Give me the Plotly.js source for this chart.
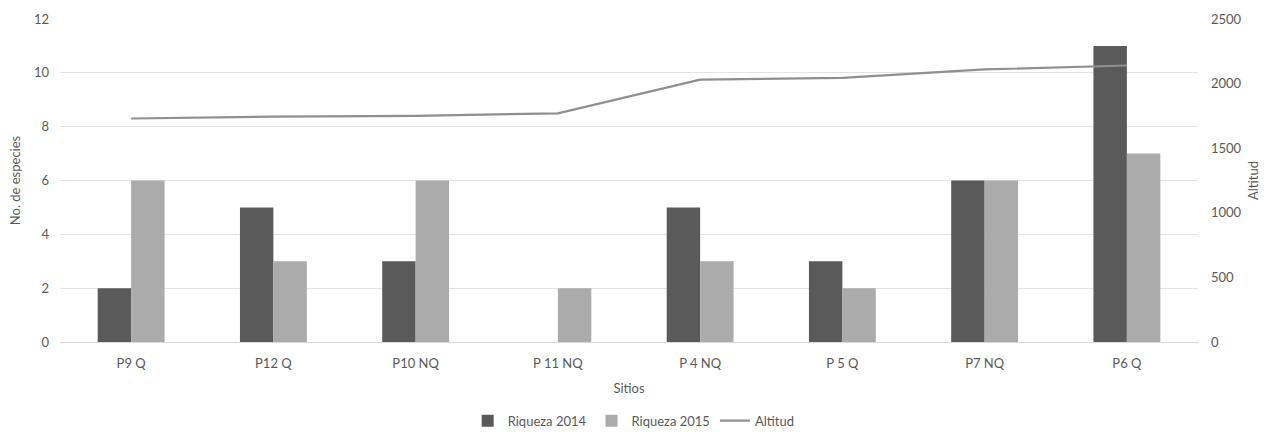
<!DOCTYPE html>
<html>
<head>
<meta charset="utf-8">
<script src="https://cdn.plot.ly/plotly-3.0.1.min.js"></script>
<style>
  html, body { margin: 0; padding: 0; background: #ffffff; }
  #chart { width: 1275px; height: 432px; }
</style>
</head>
<body>
<div id="chart"></div>
<script>
// Sampling sites along the altitude gradient
const sitios = ["P9 Q", "P12 Q", "P10 NQ", "P 11 NQ", "P 4 NQ", "P 5 Q", "P7 NQ", "P6 Q"];

// Species richness per site and year
const riqueza2014 = [2, 5, 3, 0, 5, 3, 6, 11];
const riqueza2015 = [6, 3, 6, 2, 3, 2, 6, 7];

// Site altitude (m)
const altitud = [1730, 1745, 1750, 1770, 2030, 2045, 2110, 2140];

// Axis ticks
const ticksEspecies = [0, 2, 4, 6, 8, 10, 12];
const ticksAltitud = [0, 500, 1000, 1500, 2000, 2500];

const font = { family: "Lato, 'Open Sans', sans-serif", size: 13, color: "#595959" };
const gridColor = "#e3e3e3";

const traces = [
  {
    type: "bar",
    name: "Riqueza 2014",
    x: sitios,
    y: riqueza2014,
    marker: { color: "#5a5a5a" },
    hoverinfo: "x+y"
  },
  {
    type: "bar",
    name: "Riqueza 2015",
    x: sitios,
    y: riqueza2015,
    marker: { color: "#ababab" },
    hoverinfo: "x+y"
  },
  {
    type: "scatter",
    mode: "lines",
    name: "Altitud",
    x: sitios,
    y: altitud,
    yaxis: "y2",
    line: { color: "#8f8f8f", width: 2.2 },
    hoverinfo: "x+y"
  }
];

const layout = {
  width: 1275,
  height: 432,
  margin: { l: 60, r: 77, t: 19, b: 90, autoexpand: false },
  paper_bgcolor: "#ffffff",
  plot_bgcolor: "#ffffff",
  font: font,
  barmode: "group",
  bargap: 0.53,
  bargroupgap: 0,
  showlegend: true,
  legend: {
    orientation: "h",
    xref: "container",
    yref: "container",
    x: 0.497,
    xanchor: "center",
    y: 0.026,
    yanchor: "middle",
    font: font,
    itemwidth: 30,
    tracegroupgap: 0,
    traceorder: "normal"
  },
  xaxis: {
    type: "category",
    showgrid: false,
    showline: true,
    linecolor: "#d9d9d9",
    linewidth: 1,
    ticks: "",
    ticklabelstandoff: 9,
    tickfont: font,
    title: { text: "Sitios", font: font, standoff: 14 }
  },
  yaxis: {
    range: [0, 12],
    tickvals: ticksEspecies,
    showgrid: true,
    gridcolor: gridColor,
    zeroline: false,
    showline: false,
    ticks: "",
    ticklabelstandoff: 10,
    tickfont: font,
    title: { text: "No. de especies", font: font, standoff: 10 }
  },
  yaxis2: {
    range: [0, 2500],
    tickvals: ticksAltitud,
    overlaying: "y",
    side: "right",
    showgrid: false,
    zeroline: false,
    showline: false,
    ticks: "",
    ticklabelstandoff: 12,
    tickfont: font,
    title: { text: "Altitud", font: font, standoff: 8 }
  }
};

Plotly.newPlot("chart", traces, layout, { displayModeBar: false, staticPlot: true });
</script>
</body>
</html>
